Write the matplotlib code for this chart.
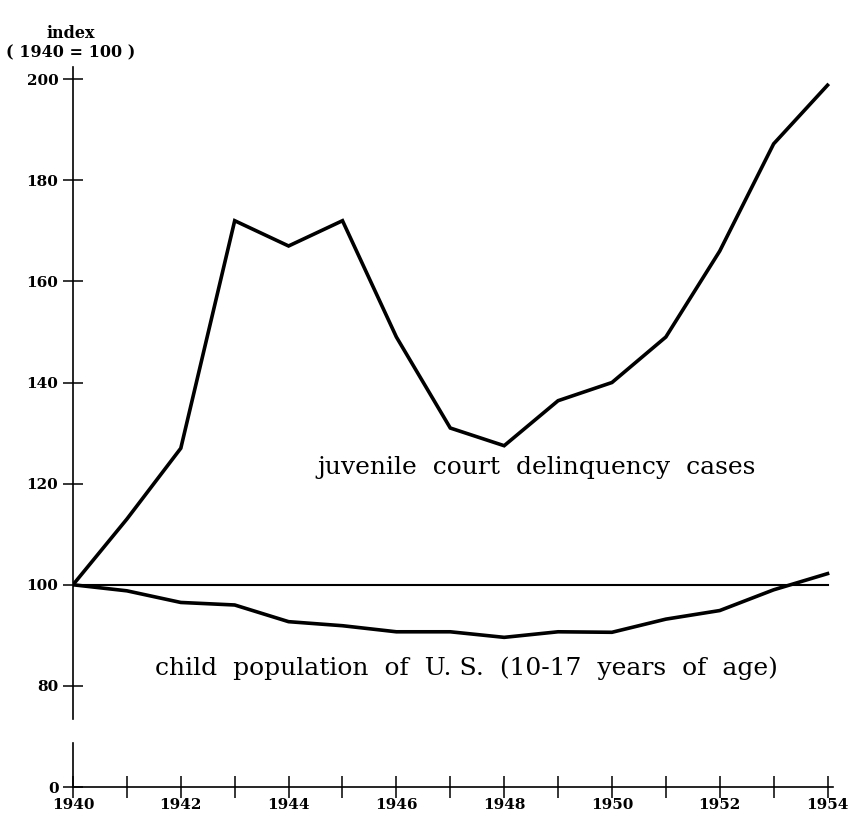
import matplotlib
matplotlib.use("Agg")
import matplotlib.pyplot as plt

## Data

years = [1940, 1941, 1942, 1943, 1944, 1945, 1946, 1947, 1948, 1949, 1950, 1951, 1952, 1953, 1954]
delinquency = [100, 113, 127, 172, 167, 172, 149, 131, 127.5, 136.4, 140, 149, 166, 187.2, 198.8]
child_pop = [100, 98.8, 96.5, 96.0, 92.7, 91.9, 90.7, 90.7, 89.6, 90.7, 90.6, 93.2, 94.9, 99.0, 102.2]

ytick_vals = [60, 80, 100, 120, 140, 160, 180, 200]   # 60 stands for the broken "0"
ytick_labels = ["0", "80", "100", "120", "140", "160", "180", "200"]
xtick_major = [1940, 1942, 1944, 1946, 1948, 1950, 1952, 1954]
xtick_minor = [1941, 1943, 1945, 1947, 1949, 1951, 1953]

label_delinq = "juvenile  court  delinquency  cases"
label_child = "child  population  of  U. S.  (10-17  years  of  age)"

TICKFONT = 'DejaVu Serif'

fig = plt.figure(figsize=(8.5, 8.17), dpi=100)
ax = fig.add_axes([0.0859, 0.0367, 0.894, 0.8813])

ax.plot(years, delinquency, color='black', lw=2.6, solid_joinstyle='miter')
ax.plot(years, child_pop, color='black', lw=2.6)
ax.plot([1940, 1954], [100, 100], color='black', lw=1.5)

ax.set_xlim(1940, 1954.1)
ax.set_ylim(60, 202.4)

for s in ['top', 'right']:
    ax.spines[s].set_visible(False)
ax.spines['left'].set_bounds(73.5, 202.4)
ax.spines['left'].set_linewidth(1.2)
ax.spines['bottom'].set_linewidth(1.2)
# lower piece of the broken y axis
ax.plot([1940, 1940], [60, 68.8], color='black', lw=1.2, clip_on=False)

ax.set_yticks(ytick_vals)
ax.set_yticklabels(ytick_labels)
ax.set_xticks(xtick_major)
ax.set_xticks(xtick_minor, minor=True)
ax.tick_params(axis='y', direction='inout', length=15, width=1.1, pad=3)
ax.tick_params(axis='x', which='both', direction='inout', length=16, width=1.1, pad=0)
for lab in ax.get_xticklabels() + ax.get_yticklabels():
    lab.set_fontfamily(TICKFONT)
    lab.set_fontweight('bold')
    lab.set_fontsize(11)

ax.text(1944.54, 123.1, label_delinq, fontsize=18, family='DejaVu Serif',
        ha='left', va='center')
ax.text(1941.52, 83.4, label_child, fontsize=18, family='DejaVu Serif',
        ha='left', va='center')

fig.text(0.083, 0.959, "index", fontsize=11.5, family=TICKFONT, fontweight='bold',
         ha='center', va='center')
fig.text(0.083, 0.935, "( 1940 = 100 )", fontsize=11.5, family=TICKFONT, fontweight='bold',
         ha='center', va='center')

fig.savefig("out.png", dpi=100)
